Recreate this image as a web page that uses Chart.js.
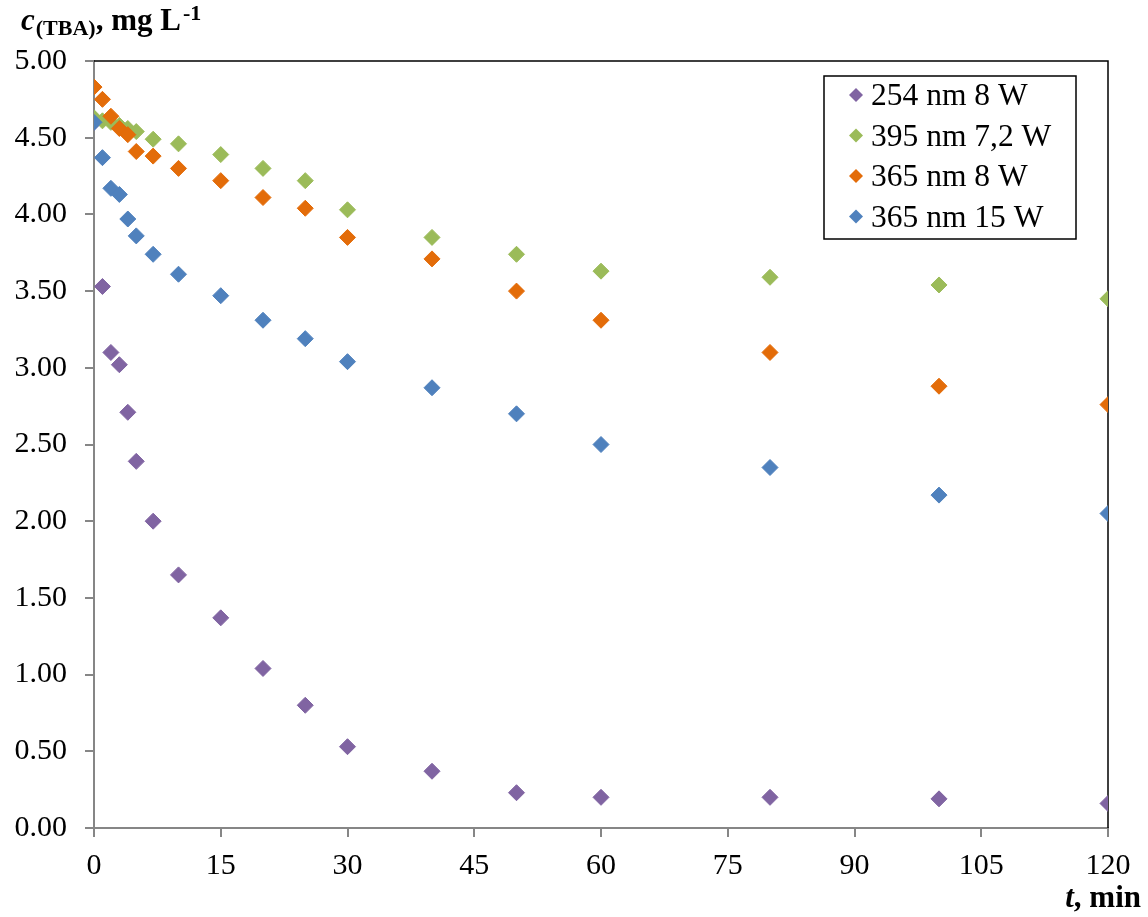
<!DOCTYPE html>
<html>
<head>
<meta charset="utf-8">
<script src="https://cdn.jsdelivr.net/npm/chart.js@4.4.1/dist/chart.umd.min.js"></script>
<style>
  html, body { margin: 0; padding: 0; background: #ffffff; }
  #wrap { width: 1148px; height: 917px; }
</style>
</head>
<body>
<div id="wrap"><canvas id="c" width="1148" height="917"></canvas></div>
<script>
// ---- data ----
const times = [0, 1, 2, 3, 4, 5, 7, 10, 15, 20, 25, 30, 40, 50, 60, 80, 100, 120];
const seriesLabels = ['254 nm 8 W', '395 nm 7,2 W', '365 nm 8 W', '365 nm 15 W'];
const uv254_8W   = [4.60, 3.53, 3.10, 3.02, 2.71, 2.39, 2.00, 1.65, 1.37, 1.04, 0.80, 0.53, 0.37, 0.23, 0.20, 0.20, 0.19, 0.16];
const uv395_72W  = [4.63, 4.61, 4.60, 4.58, 4.56, 4.54, 4.49, 4.46, 4.39, 4.30, 4.22, 4.03, 3.85, 3.74, 3.63, 3.59, 3.54, 3.45];
const uv365_8W   = [4.83, 4.75, 4.64, 4.56, 4.52, 4.41, 4.38, 4.30, 4.22, 4.11, 4.04, 3.85, 3.71, 3.50, 3.31, 3.10, 2.88, 2.76];
const uv365_15W  = [4.60, 4.37, 4.17, 4.13, 3.97, 3.86, 3.74, 3.61, 3.47, 3.31, 3.19, 3.04, 2.87, 2.70, 2.50, 2.35, 2.17, 2.05];
const seriesColors = ['#8064A2', '#9BBB59', '#E36C09', '#4F81BD'];
const xTickStep = 15;
const yTickStep = 0.5;

const allSeries = [uv254_8W, uv395_72W, uv365_8W, uv365_15W];
const toPts = arr => times.map((t, i) => ({ x: t, y: arr[i] }));

const FONT = '"Liberation Serif", "Times New Roman", serif';
const GREY = '#868686';

const datasets = allSeries.map((arr, i) => ({
  label: seriesLabels[i],
  data: toPts(arr),
  backgroundColor: seriesColors[i],
  borderColor: seriesColors[i],
  pointStyle: 'rectRot',
  pointRadius: 8,
  pointHoverRadius: 8,
  pointBorderWidth: 1,
  showLine: false,
  order: allSeries.length - i
}));

const framePlugin = {
  id: 'frame',
  beforeDatasetsDraw(chart) {
    const { ctx, chartArea: a } = chart;
    ctx.save();
    ctx.strokeStyle = '#000';
    ctx.lineWidth = 1.5;
    ctx.beginPath();
    ctx.moveTo(a.left, a.top);
    ctx.lineTo(a.right, a.top);
    ctx.lineTo(a.right, a.bottom);
    ctx.stroke();
    ctx.restore();
  }
};

const titlesPlugin = {
  id: 'titles',
  afterDraw(chart) {
    const ctx = chart.ctx;
    ctx.save();
    ctx.fillStyle = '#000';
    ctx.textBaseline = 'alphabetic';
    ctx.textAlign = 'left';
    // y-axis title: c(TBA), mg L-1
    let x = 21;
    const base = 30;
    ctx.font = 'italic bold 31px ' + FONT;
    ctx.fillText('c', x, base); x += ctx.measureText('c').width + 1;
    ctx.font = 'bold 22px ' + FONT;
    ctx.fillText('(TBA)', x, base + 5); x += ctx.measureText('(TBA)').width;
    ctx.font = 'bold 31px ' + FONT;
    ctx.fillText(', mg L', x, base); x += ctx.measureText(', mg L').width + 2;
    ctx.font = 'bold 22px ' + FONT;
    ctx.fillText('-1', x, base - 10);
    // x-axis title: t, min
    ctx.textAlign = 'right';
    ctx.font = 'bold 31px ' + FONT;
    const rest = ', min';
    const xr = 1141;
    ctx.fillText(rest, xr, 907);
    const w = ctx.measureText(rest).width;
    ctx.font = 'italic bold 31px ' + FONT;
    ctx.fillText('t', xr - w, 907);
    ctx.restore();
  }
};

const legendPlugin = {
  id: 'boxLegend',
  afterDraw(chart) {
    const ctx = chart.ctx;
    ctx.save();
    const bx = 824, by = 76, bw = 252, bh = 163;
    ctx.fillStyle = '#fff';
    ctx.fillRect(bx, by, bw, bh);
    ctx.strokeStyle = '#000';
    ctx.lineWidth = 1.5;
    ctx.strokeRect(bx, by, bw, bh);
    ctx.font = '31.5px ' + FONT;
    ctx.textBaseline = 'middle';
    ctx.textAlign = 'left';
    const rowY = [95, 135.5, 176, 216.5];
    chart.data.datasets.forEach((ds, i) => {
      const cy = rowY[i];
      const cx = 856;
      const r = 7;
      ctx.fillStyle = ds.backgroundColor;
      ctx.beginPath();
      ctx.moveTo(cx - r, cy); ctx.lineTo(cx, cy - r); ctx.lineTo(cx + r, cy); ctx.lineTo(cx, cy + r);
      ctx.closePath();
      ctx.fill();
      ctx.fillStyle = '#000';
      ctx.fillText(ds.label, 871, cy + 2);
    });
    ctx.restore();
  }
};

new Chart(document.getElementById('c'), {
  type: 'scatter',
  data: { datasets },
  options: {
    responsive: false,
    animation: false,
    devicePixelRatio: 1,
    layout: { padding: { left: 0, right: 40, top: 61, bottom: 0 } },
    plugins: { legend: { display: false }, tooltip: { enabled: false } },
    scales: {
      x: {
        type: 'linear',
        min: 0, max: 120,
        afterFit(s) { s.height = 89; },
        border: { display: true, color: GREY, width: 2 },
        grid: { drawOnChartArea: false, drawTicks: true, tickLength: 9, color: GREY, lineWidth: 2 },
        ticks: { stepSize: xTickStep, color: '#000', font: { family: FONT, size: 30 }, padding: 11, maxRotation: 0 }
      },
      y: {
        type: 'linear',
        min: 0, max: 5,
        afterFit(s) { s.width = 94; },
        border: { display: true, color: GREY, width: 2 },
        grid: { drawOnChartArea: false, drawTicks: true, tickLength: 9, color: GREY, lineWidth: 2 },
        ticks: { stepSize: yTickStep, color: '#000', font: { family: FONT, size: 30 }, padding: 18,
                 callback: v => v.toFixed(2) }
      }
    }
  },
  plugins: [framePlugin, titlesPlugin, legendPlugin]
});
</script>
</body>
</html>
